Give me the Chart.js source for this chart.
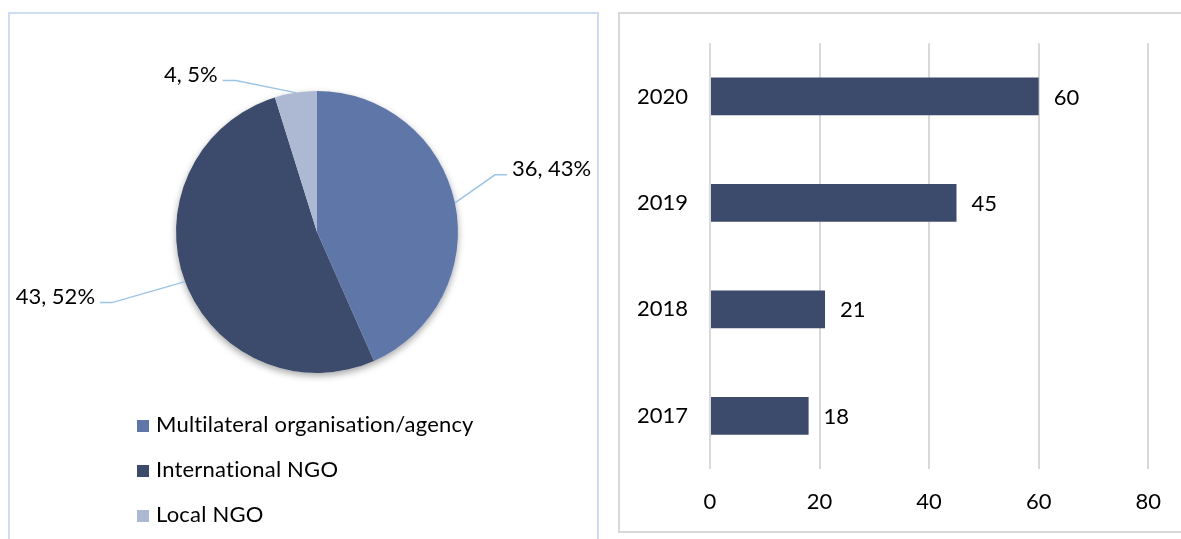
<!DOCTYPE html>
<html>
<head>
<meta charset="utf-8">
<script src="https://cdn.jsdelivr.net/npm/chart.js@4"></script>
<style>
  body { margin: 0; background: #fff; width: 1181px; height: 539px; overflow: hidden; position: relative; }
  .panel { position: absolute; box-sizing: border-box; }
  #leftPanel { left: 8px; top: 12px; width: 591px; height: 560px; border: 2px solid #cddcf0; }
  #rightPanel { left: 618px; top: 12px; width: 600px; height: 521px; border: 2px solid #d9d9d9; }
  #pieChart { position: absolute; left: 0; top: 0; }
  #barChart { position: absolute; left: 620px; top: 8px; }
</style>
</head>
<body>
<div class="panel" id="leftPanel"></div>
<div class="panel" id="rightPanel"></div>
<canvas id="pieChart" width="600" height="539"></canvas>
<canvas id="barChart" width="561" height="523"></canvas>
<script>
// pie data
const orgTypes = ['Multilateral organisation/agency', 'International NGO', 'Local NGO'];
const orgCounts = [36, 43, 4];
const orgColors = ['#5f77a8', '#3c4a6b', '#adb9d3'];

// bar data
const years = ['2017', '2018', '2019', '2020'];
const yearCounts = [18, 21, 45, 60];
const xTicks = [0, 20, 40, 60, 80];

const FONT = 'Lato';
const barColor = '#3c4a6b';

// soft shadow under the pie
const pieShadow = {
  id: 'pieShadow',
  beforeDatasetsDraw(chart) {
    const arc = chart.getDatasetMeta(0).data[0];
    if (!arc) return;
    const ctx = chart.ctx;
    ctx.save();
    ctx.shadowColor = 'rgba(0,0,0,0.35)';
    ctx.shadowBlur = 7;
    ctx.shadowOffsetY = 3;
    ctx.fillStyle = '#fff';
    ctx.beginPath();
    ctx.arc(arc.x, arc.y, arc.outerRadius, 0, Math.PI * 2);
    ctx.fill();
    ctx.restore();
  }
};

// data labels with leader lines
const pieLabels = {
  id: 'pieLabels',
  afterDatasetsDraw(chart, args, opts) {
    const ctx = chart.ctx;
    const data = chart.data.datasets[0].data;
    const total = data.reduce((a, b) => a + b, 0);
    chart.getDatasetMeta(0).data.forEach((arc, i) => {
      const mid = (arc.startAngle + arc.endAngle) / 2;
      const sx = arc.x + Math.cos(mid) * arc.outerRadius;
      const sy = arc.y + Math.sin(mid) * arc.outerRadius;
      const [dx, dy, len] = opts.leaders[i];
      const ex = sx + dx, ey = sy + dy;
      const tx = ex + len;
      ctx.save();
      ctx.strokeStyle = '#9dc3e6';
      ctx.lineWidth = 1.5;
      ctx.beginPath();
      ctx.moveTo(sx, sy);
      ctx.lineTo(ex, ey);
      ctx.lineTo(tx, ey);
      ctx.stroke();
      ctx.fillStyle = '#000';
      ctx.font = '22px ' + FONT;
      ctx.textBaseline = 'middle';
      ctx.textAlign = len > 0 ? 'left' : 'right';
      const pct = Math.round(data[i] / total * 100);
      ctx.fillText(data[i] + ', ' + pct + '%', tx + (len > 0 ? 5 : -5), ey - 6);
      ctx.restore();
    });
  }
};

// stacked legend under the pie
const pieLegend = {
  id: 'pieLegend',
  afterDraw(chart, args, opts) {
    const ctx = chart.ctx;
    const ds = chart.data.datasets[0];
    ctx.save();
    ctx.font = '22px ' + FONT;
    ctx.letterSpacing = '0.2px';
    ctx.textBaseline = 'middle';
    ctx.textAlign = 'left';
    chart.data.labels.forEach((lab, i) => {
      const y = opts.top + i * opts.gap;
      ctx.fillStyle = ds.backgroundColor[i];
      ctx.fillRect(opts.left, y - 5, 12, 12);
      ctx.fillStyle = '#000';
      ctx.fillText(lab, opts.left + 19, y);
    });
    ctx.restore();
  }
};

new Chart(document.getElementById('pieChart'), {
  type: 'pie',
  data: {
    labels: orgTypes,
    datasets: [{
      data: orgCounts,
      backgroundColor: orgColors,
      borderWidth: 0
    }]
  },
  options: {
    responsive: false,
    animation: false,
    layout: { padding: { left: 176, top: 91, right: 142, bottom: 166 } },
    plugins: {
      legend: { display: false },
      tooltip: { enabled: false },
      pieLabels: { leaders: [[40, -28, 12], [-73, 21, -12], [-60, -12, -13]] },
      pieLegend: { left: 137, top: 425, gap: 45 }
    }
  },
  plugins: [pieShadow, pieLabels, pieLegend]
});

const barValueLabels = {
  id: 'barValueLabels',
  afterDatasetsDraw(chart) {
    const ctx = chart.ctx;
    const ds = chart.data.datasets[0];
    ctx.save();
    ctx.font = '22px ' + FONT;
    ctx.fillStyle = '#000';
    ctx.textBaseline = 'middle';
    ctx.textAlign = 'left';
    chart.getDatasetMeta(0).data.forEach((bar, i) => {
      ctx.fillText(String(ds.data[i]), bar.x + 15, bar.y + 1);
    });
    ctx.restore();
  }
};

new Chart(document.getElementById('barChart'), {
  type: 'bar',
  data: {
    labels: years,
    datasets: [{
      data: yearCounts,
      backgroundColor: barColor,
      categoryPercentage: 1,
      barPercentage: 0.355
    }]
  },
  options: {
    indexAxis: 'y',
    responsive: false,
    animation: false,
    layout: { padding: { top: 21, right: 31, left: 0, bottom: 0 } },
    scales: {
      x: {
        min: 0,
        max: 80,
        afterBuildTicks(scale) { scale.ticks = xTicks.map(v => ({ value: v })); },
        afterFit(scale) { scale.height = 62; },
        grid: { color: '#d9d9d9', lineWidth: 2, drawTicks: false },
        border: { display: false },
        ticks: { color: '#000', font: { family: FONT, size: 22 }, padding: 20 }
      },
      y: {
        reverse: true,
        afterFit(scale) { scale.width = 90; },
        grid: { display: false, drawTicks: false },
        border: { display: false },
        ticks: { color: '#000', font: { family: FONT, size: 22 }, padding: 22 }
      }
    },
    plugins: {
      legend: { display: false },
      tooltip: { enabled: false }
    }
  },
  plugins: [barValueLabels]
});
</script>
</body>
</html>
